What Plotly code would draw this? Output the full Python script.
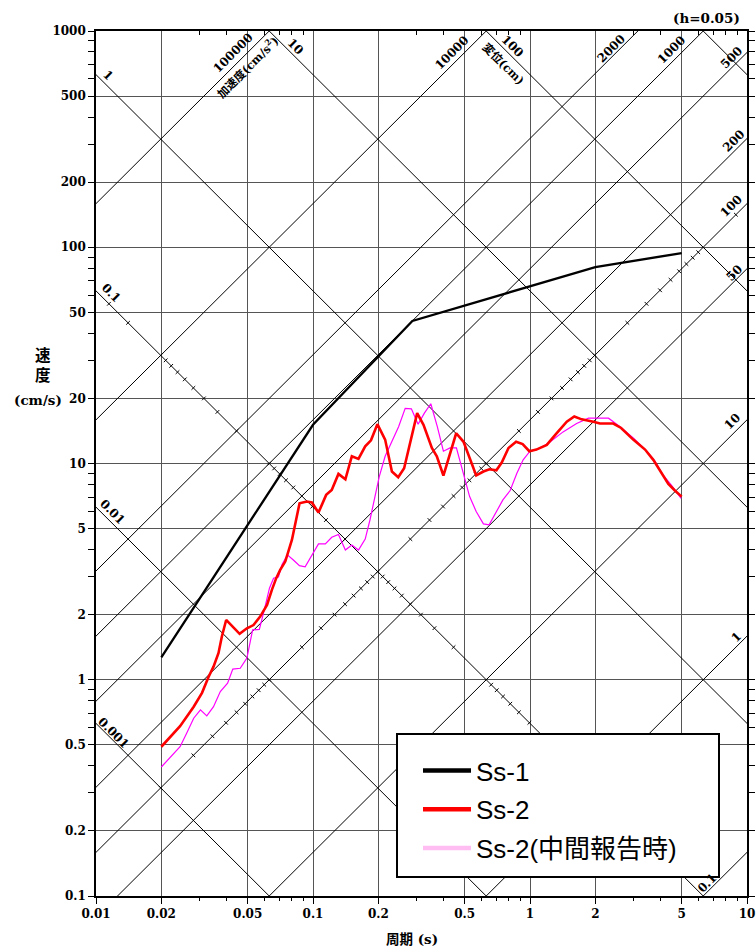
import numpy as np
import plotly.graph_objects as go

# ---------------- data ----------------
ss1_T = [0.02, 0.1, 0.287, 2.0, 5.0]
ss1_V = [1.27, 15.1, 45.6, 81.0, 94.0]

ss2_T = [0.02, 0.0244, 0.0282, 0.0308, 0.033, 0.0348, 0.0367, 0.038, 0.0398, 0.0459,
         0.0496, 0.0532, 0.0571, 0.0614, 0.0647, 0.0677, 0.0706, 0.0745, 0.080, 0.0867,
         0.0937, 0.0988, 0.106, 0.115, 0.122, 0.131, 0.141, 0.151, 0.162, 0.174,
         0.185, 0.198, 0.215, 0.231, 0.247, 0.263, 0.302, 0.323, 0.353, 0.372,
         0.399, 0.457, 0.494, 0.54, 0.565, 0.61, 0.65, 0.70, 0.741, 0.796,
         0.863, 0.925, 0.993, 1.07, 1.195, 1.31, 1.477, 1.60, 1.73, 1.96,
         2.10, 2.42, 2.63, 2.99, 3.39, 3.70, 3.98, 4.34, 4.65, 5.0]
ss2_V = [0.49, 0.61, 0.75, 0.87, 1.03, 1.15, 1.33, 1.58, 1.89, 1.63,
         1.73, 1.79, 1.96, 2.22, 2.61, 2.95, 3.22, 3.52, 4.44, 6.55,
         6.67, 6.6, 5.93, 7.16, 7.55, 8.95, 8.45, 10.8, 10.5, 12.0,
         12.8, 15.2, 12.9, 9.18, 8.64, 9.5, 17.1, 15.1, 11.8, 10.8,
         8.8, 13.8, 12.6, 10.0, 8.8, 9.18, 9.4, 9.3, 10.1, 11.8,
         12.6, 12.3, 11.4, 11.6, 12.2, 13.6, 15.6, 16.5, 16.0, 15.6,
         15.3, 15.3, 14.6, 12.9, 11.6, 10.4, 9.27, 8.05, 7.5, 7.03]

ss2i_T = [0.02, 0.0244, 0.0262, 0.0282, 0.0303, 0.0324, 0.0348, 0.0374, 0.0404, 0.0427,
          0.0462, 0.0496, 0.0527, 0.0566, 0.0596, 0.063, 0.0658, 0.0693, 0.0719, 0.0762,
          0.0812, 0.0866, 0.092, 0.0988, 0.106, 0.114, 0.122, 0.131, 0.141, 0.151,
          0.162, 0.174, 0.183, 0.193, 0.202, 0.215, 0.234, 0.248, 0.266, 0.284,
          0.305, 0.326, 0.349, 0.374, 0.399, 0.428, 0.458, 0.49, 0.527, 0.565,
          0.61, 0.648, 0.70, 0.75, 0.81, 0.87, 0.93, 1.0, 1.07, 1.15,
          1.24, 1.42, 1.64, 1.86, 2.3, 2.6, 3.0, 3.45, 3.75, 4.1, 4.5, 4.97]
ss2i_V = [0.395, 0.49, 0.567, 0.664, 0.726, 0.681, 0.751, 0.882, 0.964, 1.12,
          1.13, 1.26, 1.70, 1.71, 2.10, 2.65, 2.95, 2.99, 3.40, 3.78,
          3.58, 3.37, 3.33, 3.78, 4.25, 4.25, 4.56, 4.7, 3.98, 4.2,
          3.98, 4.47, 5.48, 7.03, 8.7, 10.8, 13.1, 14.8, 18.0, 17.9,
          15.2, 17.1, 18.9, 14.8, 11.4, 11.8, 11.8, 9.3, 7.03, 6.0,
          5.26, 5.2, 6.0, 6.79, 7.5, 9.02, 10.4, 11.4, 11.6, 12.0,
          12.6, 14.0, 15.3, 16.2, 16.2, 14.8, 13.1, 11.4, 10.3, 8.85, 7.9, 6.9]

x_tickvals = [0.01, 0.02, 0.05, 0.1, 0.2, 0.5, 1, 2, 5, 10]
x_ticktext = ["0.01", "0.02", "0.05", "0.1", "0.2", "0.5", "1", "2", "5", "10"]
y_tickvals = [0.1, 0.2, 0.5, 1, 2, 5, 10, 20, 50, 100, 200, 500, 1000]
y_ticktext = ["0.1", "0.2", "0.5", "1", "2", "5", "10", "20", "50", "100", "200", "500", "1000"]

disp_levels = [0.001, 0.01, 0.1, 1, 10, 100, 1000]          # cm
acc_levels = [0.1, 1, 10, 50, 100, 200, 500, 1000, 2000, 10000, 100000]  # cm/s^2
tick_disp_line = 0.1     # displacement line carrying acceleration ticks
tick_acc_line = 100      # acceleration line carrying displacement ticks

acc_labels = [(100000, "top", 41, 10), (10000, "top", 40, 9), (2000, "top", 32, 6),
              (1000, "top", 36, 9), (500, "right", 15, 7.5), (200, "right", 11, 8),
              (100, "right", 13, 9), (50, "right", 12, 6), (10, "right", 11, 9),
              (1, "right", 8, 7), (0.1, "bottom", 12, 6)]
disp_labels = [(1, "left", 8.5, 8), (10, "top", 30, 7.6), (100, "top", 29, 7.8),
               (0.1, "left", 12, 9.5), (0.01, "left", 15, 8.5), (0.001, "left", 19, 6)]

# ---------------- geometry ----------------
W, H = 756, 951
ML, MR, MT, MB = 96, 9, 31, 55
PW, PH = W - ML - MR, H - MT - MB
XR, YR = (-2.0, 1.0), (-1.0, 3.0)
PXD_X = PW / (XR[1] - XR[0])
PXD_Y = PH / (YR[1] - YR[0])
TWO_PI = 2 * np.pi
S2 = np.sqrt(2)


def px_x(px):
    return (px - ML) / PW


def px_y(py):
    return (H - MB - py) / PH


fig = go.Figure()

# diagonal grid lines
dx, dy = [], []
Tw = np.array([1e-4, 1e3])
for D in disp_levels:
    dx += list(Tw) + [None]
    dy += list(TWO_PI * D / Tw) + [None]
for A in acc_levels:
    dx += list(Tw) + [None]
    dy += list(A * Tw / TWO_PI) + [None]
fig.add_trace(go.Scatter(x=dx, y=dy, mode="lines", line=dict(color="black", width=1),
                         hoverinfo="skip", showlegend=False))

# small ticks along the two special lines
h = 2.6
tx, ty = [], []
mult = [k * 10.0 ** n for n in range(-3, 7) for k in range(1, 10)]
ax_ = h / S2 / PXD_X
ay_ = h / S2 / PXD_Y
for A in mult:   # on displacement line
    T = TWO_PI * np.sqrt(tick_disp_line / A)
    V = TWO_PI * tick_disp_line / T
    lt, lv = np.log10(T), np.log10(V)
    if XR[0] < lt < XR[1] and YR[0] < lv < YR[1]:
        tx += [10 ** (lt - ax_), 10 ** (lt + ax_), None]
        ty += [10 ** (lv - ay_), 10 ** (lv + ay_), None]
for D in mult:   # on acceleration line
    T = TWO_PI * np.sqrt(D / tick_acc_line)
    V = tick_acc_line * T / TWO_PI
    lt, lv = np.log10(T), np.log10(V)
    if XR[0] < lt < XR[1] and YR[0] < lv < YR[1]:
        tx += [10 ** (lt - ax_), 10 ** (lt + ax_), None]
        ty += [10 ** (lv + ay_), 10 ** (lv - ay_), None]
fig.add_trace(go.Scatter(x=tx, y=ty, mode="lines", line=dict(color="black", width=1),
                         hoverinfo="skip", showlegend=False))

# data series
fig.add_trace(go.Scatter(x=ss1_T, y=ss1_V, mode="lines", line=dict(color="black", width=2.3),
                         showlegend=False))
fig.add_trace(go.Scatter(x=ss2i_T, y=ss2i_V, mode="lines", line=dict(color="#ff00ff", width=1.2),
                         showlegend=False))
fig.add_trace(go.Scatter(x=ss2_T, y=ss2_V, mode="lines", line=dict(color="#ff0000", width=2.6),
                         showlegend=False))

# legend entries
for name, col, grp in [("Ss-1", "black", "a"), ("Ss-2", "#ff0000", "b"),
                       ("Ss-2(中間報告時)", "#ffbdf2", "c")]:
    fig.add_trace(go.Scatter(x=[None], y=[None], mode="lines", name=name,
                             line=dict(color=col, width=4.5), legendgroup=grp))

# invisible trace to anchor the top axis
fig.add_trace(go.Scatter(x=[1], y=[1], xaxis="x2", mode="markers",
                         marker=dict(opacity=0), hoverinfo="skip", showlegend=False))

# labels on diagonal lines
lab_font = dict(family="DejaVu Serif", size=12, color="black", weight="bold")
annots = []


def acc_anchor(A, edge):
    if edge == "top":
        V = 10 ** YR[1]; T = TWO_PI * V / A
    elif edge == "right":
        T = 10 ** XR[1]; V = A * T / TWO_PI
    else:
        V = 10 ** YR[0]; T = TWO_PI * V / A
    return np.log10(T), np.log10(V)


def disp_anchor(D, edge):
    if edge == "top":
        V = 10 ** YR[1]; T = TWO_PI * D / V
    else:
        T = 10 ** XR[0]; V = TWO_PI * D / T
    return np.log10(T), np.log10(V)


def acc_ann(text, A, edge, along, perp, font):
    lt, lv = acc_anchor(A, edge)
    if edge == "bottom":
        xs = along / S2 - perp / S2; ys = along / S2 + perp / S2
    else:
        xs = -along / S2 - perp / S2; ys = -along / S2 + perp / S2
    return dict(x=lt, y=lv, xref="x", yref="y", text=text, showarrow=False, textangle=-45,
                xanchor="center", yanchor="middle", xshift=xs, yshift=ys, font=font)


def disp_ann(text, D, edge, along, perp, font):
    lt, lv = disp_anchor(D, edge)
    xs = along / S2 + perp / S2; ys = -along / S2 + perp / S2
    return dict(x=lt, y=lv, xref="x", yref="y", text=text, showarrow=False, textangle=45,
                xanchor="center", yanchor="middle", xshift=xs, yshift=ys, font=font)


for A, edge, al, pp in acc_labels:
    annots.append(acc_ann("%g" % A, A, edge, al, pp, lab_font))
for D, edge, al, pp in disp_labels:
    annots.append(disp_ann("%g" % D, D, edge, al, pp, lab_font))

cjk_font = dict(family="DejaVu Serif, Noto Sans CJK JP", size=11.5, color="black", weight="bold")
annots.append(acc_ann("加速度(cm/s<sup>2</sup>)", 100000, "top", 41, -10, cjk_font))
annots.append(disp_ann("変位(cm)", 100, "top", 35.5, -11, cjk_font))

ttl_font = dict(family="DejaVu Serif, Noto Sans CJK JP", size=13.5, color="black", weight="bold")
annots.append(dict(x=px_x(43), y=px_y(364), xref="paper", yref="paper", text="速<br>度",
                   xanchor="center", yanchor="middle", showarrow=False,
                   font=dict(family="Noto Sans CJK JP", size=15.5, color="black", weight="bold")))
annots.append(dict(x=px_x(38), y=px_y(400), xref="paper", yref="paper", text="(cm/s)",
                   xanchor="center", yanchor="middle", showarrow=False, font=ttl_font))
annots.append(dict(x=px_x(412), y=px_y(939), xref="paper", yref="paper",
                   text="周期 (s)", xanchor="center", yanchor="middle", showarrow=False,
                   font=ttl_font))
annots.append(dict(x=px_x(742), y=px_y(18), xref="paper", yref="paper", xanchor="right",
                   yanchor="middle", text="(h=0.05)", showarrow=False, font=ttl_font))

minor_vals = [k * 10.0 ** n for n in range(-3, 4) for k in (3, 4, 6, 7, 8, 9)]
tick_font = dict(family="DejaVu Serif", size=12, color="black", weight="bold")

fig.update_layout(
    width=W, height=H,
    margin=dict(l=ML, r=MR, t=MT, b=MB, pad=0, autoexpand=False),
    paper_bgcolor="white", plot_bgcolor="white",
    xaxis=dict(type="log", range=list(XR), tickvals=x_tickvals, ticktext=x_ticktext,
               ticks="outside", ticklen=6, tickcolor="black", tickwidth=1.2,
               showgrid=True, gridcolor="#555555", gridwidth=1.3, automargin=False,
               showline=True, linecolor="black", linewidth=1.6, mirror=True,
               tickfont=tick_font, zeroline=False,
               minor=dict(tickvals=minor_vals, ticks="outside", ticklen=3,
                          tickcolor="black", showgrid=False)),
    xaxis2=dict(type="log", range=list(XR), overlaying="x", side="top", automargin=False,
                tickvals=minor_vals, ticks="inside", ticklen=4, tickcolor="black",
                showticklabels=False, showgrid=False, showline=False, zeroline=False),
    yaxis=dict(type="log", range=list(YR), tickvals=y_tickvals, ticktext=y_ticktext,
               ticks="outside", ticklen=6, tickcolor="black", tickwidth=1.2,
               showgrid=True, gridcolor="#555555", gridwidth=1.3, automargin=False,
               showline=True, linecolor="black", linewidth=1.6, mirror="allticks",
               tickfont=tick_font, zeroline=False,
               minor=dict(tickvals=minor_vals, ticks="outside", ticklen=4,
                          tickcolor="black", showgrid=False)),
    legend=dict(x=px_x(418), y=px_y(747), xanchor="left", yanchor="top",
                bgcolor="rgba(0,0,0,0)", borderwidth=0, itemwidth=48,
                tracegroupgap=2,
                font=dict(family="Liberation Sans, Noto Sans CJK JP", size=26, color="black")),
    shapes=[dict(type="rect", xref="paper", yref="paper",
                 x0=px_x(397), x1=px_x(719), y0=px_y(877), y1=px_y(734),
                 line=dict(color="black", width=2), fillcolor="white", layer="above")],
    annotations=annots,
)

fig.write_html("out.html", config={"displayModeBar": False},
               post_script="document.body.style.margin='0px';")
